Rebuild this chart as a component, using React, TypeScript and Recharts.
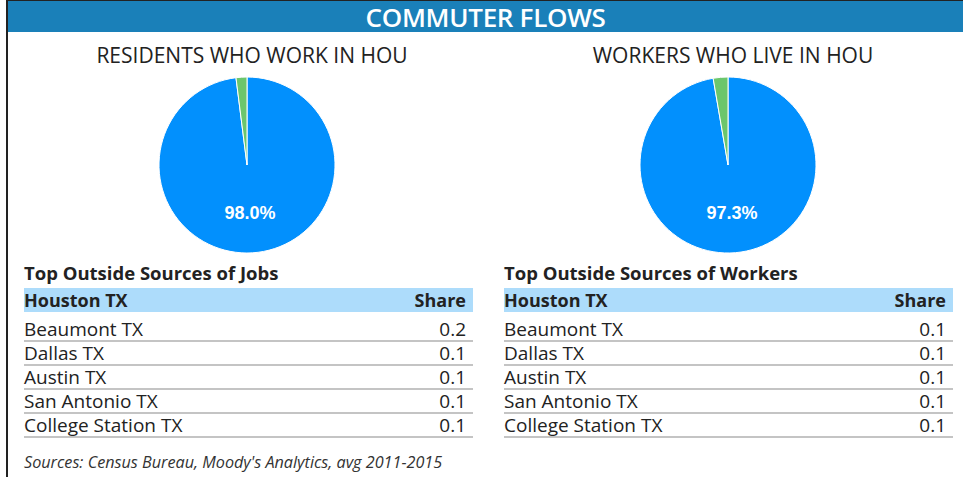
import React from "react";
import { PieChart, Pie, Cell } from "recharts";

// pie shares (percent): in-area vs outside
const sliceNames = ["Houston", "Outside"];
const residentsShares = [98.0, 2.0];
const workersShares = [97.3, 2.7];
const pieTitles = ["RESIDENTS WHO WORK IN HOU", "WORKERS WHO LIVE IN HOU"];

// outside-source tables
const jobsCities = ["Beaumont TX", "Dallas TX", "Austin TX", "San Antonio TX", "College Station TX"];
const jobsShares = [0.2, 0.1, 0.1, 0.1, 0.1];
const workersCities = ["Beaumont TX", "Dallas TX", "Austin TX", "San Antonio TX", "College Station TX"];
const workersSharesTable = [0.1, 0.1, 0.1, 0.1, 0.1];

const BLUE = "#0290fd";
const GREEN = "#6cc66c";
const HEADER = "#1a80b9";
const FONT = "'Open Sans', 'Noto Sans', sans-serif";
const RAD = Math.PI / 180;

const residentsData = sliceNames.map((name, i) => ({ name, value: residentsShares[i] }));
const workersData = sliceNames.map((name, i) => ({ name, value: workersShares[i] }));

function renderLabel(props: any) {
  const { cx, cy, midAngle, outerRadius, index, value } = props;
  if (index !== 0) return null;
  const r = outerRadius * 0.55;
  const x = cx + r * Math.cos(-midAngle * RAD);
  const y = cy + r * Math.sin(-midAngle * RAD);
  return (
    <text
      x={x}
      y={y}
      fill="#fff"
      textAnchor="middle"
      dominantBaseline="central"
      fontFamily="'Liberation Sans', Arial, sans-serif"
      fontWeight="bold"
      fontSize={18}
    >
      {value.toFixed(1)}%
    </text>
  );
}

function SourceTable({
  title,
  cities,
  shares,
  left,
}: {
  title: string;
  cities: string[];
  shares: number[];
  left: number;
}) {
  return (
    <div style={{ position: "absolute", left, top: 260, width: 449, fontFamily: FONT, color: "#222" }}>
      <div style={{ fontWeight: 700, fontSize: 18.5, height: 28, lineHeight: "26px" }}>{title}</div>
      <div
        style={{
          background: "#addcfb",
          height: 24,
          lineHeight: "24px",
          fontWeight: 700,
          fontSize: 18,
          display: "flex",
          justifyContent: "space-between",
          padding: "0 7px 0 0",
        }}
      >
        <span>Houston TX</span>
        <span>Share</span>
      </div>
      <div style={{ height: 6 }} />
      {cities.map((c, i) => (
        <div
          key={c}
          style={{
            height: 22,
            lineHeight: "22px",
            fontSize: 19,
            display: "flex",
            justifyContent: "space-between",
            borderBottom: "2px solid #c4c4c4",
            padding: "0 7px 0 0",
          }}
        >
          <span>{c}</span>
          <span>{shares[i].toFixed(1)}</span>
        </div>
      ))}
    </div>
  );
}

export default function App() {
  return (
    <div
      style={{
        position: "absolute",
        left: 0,
        top: 0,
        width: 963,
        height: 477,
        background: "#fff",
        overflow: "hidden",
      }}
    >
      <div style={{ position: "absolute", left: 6, top: 0, width: 2, height: 477, background: "#222" }} />
      <div style={{ position: "absolute", left: 6, top: 0, width: 957, height: 1, background: "#222" }} />
      <div style={{ position: "absolute", left: 8, top: 1, width: 955, height: 31, background: HEADER }} />
      <div
        style={{
          position: "absolute",
          left: 8,
          top: 0,
          width: 955,
          height: 35,
          color: "#fff",
          textAlign: "center",
          fontFamily: FONT,
          fontWeight: 600,
          fontSize: 26,
          lineHeight: "35px",
          letterSpacing: -0.3,
        }}
      >
        COMMUTER FLOWS
      </div>
      <div style={{ position: "absolute", left: 0, top: 34 }}>
        <PieChart width={963} height={226} margin={{ top: 0, right: 0, bottom: 0, left: 0 }}>
          <text x={252} y={21} textAnchor="middle" dominantBaseline="central" fontFamily={FONT} fontWeight={500} fontSize={21} fill="#222">
            {pieTitles[0]}
          </text>
          <text x={733} y={21} textAnchor="middle" dominantBaseline="central" fontFamily={FONT} fontWeight={500} fontSize={21} fill="#222">
            {pieTitles[1]}
          </text>
          <Pie
            data={residentsData}
            dataKey="value"
            nameKey="name"
            cx={247}
            cy={131}
            outerRadius={88}
            startAngle={90}
            endAngle={-270}
            stroke="#fff"
            strokeWidth={1}
            label={renderLabel}
            labelLine={false}
            isAnimationActive={false}
          >
            <Cell fill={BLUE} />
            <Cell fill={GREEN} />
          </Pie>
          <Pie
            data={workersData}
            dataKey="value"
            nameKey="name"
            cx={728}
            cy={131}
            outerRadius={88}
            startAngle={90}
            endAngle={-270}
            stroke="#fff"
            strokeWidth={1}
            label={renderLabel}
            labelLine={false}
            isAnimationActive={false}
          >
            <Cell fill={BLUE} />
            <Cell fill={GREEN} />
          </Pie>
        </PieChart>
      </div>
      <SourceTable title="Top Outside Sources of Jobs" cities={jobsCities} shares={jobsShares} left={24} />
      <SourceTable title="Top Outside Sources of Workers" cities={workersCities} shares={workersSharesTable} left={504} />
      <div
        style={{
          position: "absolute",
          left: 24,
          top: 450,
          fontFamily: FONT,
          fontStyle: "italic",
          fontSize: 16.2,
          color: "#333",
          lineHeight: "24px",
        }}
      >
        Sources: Census Bureau, Moody's Analytics, avg 2011-2015
      </div>
    </div>
  );
}
